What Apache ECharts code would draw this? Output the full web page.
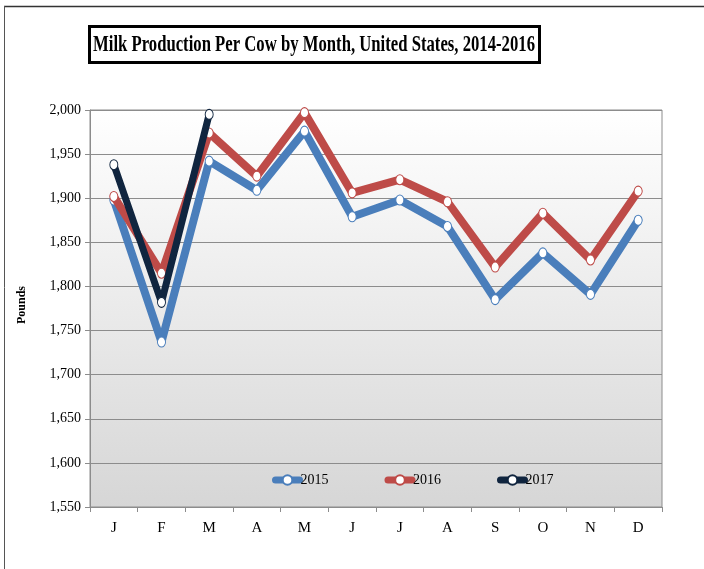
<!DOCTYPE html>
<html>
<head>
<meta charset="utf-8">
<script src="https://cdn.jsdelivr.net/npm/echarts@6/dist/echarts.min.js"></script>
<style>html,body{margin:0;padding:0;background:#fff;}#c{width:704px;height:569px;}</style>
</head>
<body>
<div id="c"></div>
<script>
const months = ['J','F','M','A','M','J','J','A','S','O','N','D'];
const s2015 = [1898, 1737, 1942, 1909, 1976, 1879, 1898, 1868, 1785, 1838, 1791, 1875];
const s2016 = [1902, 1815, 1974, 1925, 1997, 1906, 1921, 1896, 1822, 1883, 1830, 1908];
const s2017 = [1938, 1782, 1995];
const seriesNames = ['2015', '2016', '2017'];
const seriesColors = ['#4a7ebb', '#be4b48', '#10253f'];
const yMin = 1550, yMax = 2000, yStep = 50;
const titleText = 'Milk Production Per Cow by Month, United States, 2014-2016';

const serifFont = '"Liberation Serif","Times New Roman",serif';
const cv = document.createElement('canvas').getContext('2d');
cv.font = 'bold 23px ' + serifFont;
const titleW = cv.measureText(titleText).width;
const titleScale = 442 / titleW;

const chart = echarts.init(document.getElementById('c'), null, {renderer: 'canvas'});
const dataSets = [s2015, s2016, s2017];
const option = {
  animation: false,
  backgroundColor: '#fff',
  grid: {
    left: 90, right: 42, top: 110, bottom: 62,
    show: true,
    borderColor: '#8c8c8c', borderWidth: 1,
    backgroundColor: new echarts.graphic.LinearGradient(0, 0, 0, 1, [
      {offset: 0, color: '#ffffff'}, {offset: 1, color: '#d6d6d6'}
    ])
  },
  legend: {
    data: seriesNames,
    left: 267, top: 468,
    itemWidth: 24, itemHeight: 12, itemGap: 56,
    lineStyle: {width: 7, cap: 'round'},
    textStyle: {fontFamily: serifFont, fontSize: 14, color: '#000', padding: [0,0,0,-4]}
  },
  xAxis: {
    type: 'category', data: months, boundaryGap: true,
    axisLine: {show: true, lineStyle: {color: '#8c8c8c'}},
    axisTick: {show: true, length: 5, lineStyle: {color: '#8c8c8c'}},
    axisLabel: {fontFamily: serifFont, fontSize: 15, color: '#000', margin: 14}
  },
  yAxis: {
    type: 'value', min: yMin, max: yMax, interval: yStep,
    axisLine: {show: true, lineStyle: {color: '#8c8c8c'}},
    axisTick: {show: true, inside: false, length: 5, lineStyle: {color: '#8c8c8c'}},
    splitLine: {show: true, lineStyle: {color: '#8c8c8c', width: 1}},
    axisLabel: {fontFamily: serifFont, fontSize: 14, color: '#000', margin: 9,
      formatter: v => v.toLocaleString('en-US')}
  },
  series: dataSets.map((d, i) => ({
    name: seriesNames[i], type: 'line', data: d,
    symbol: 'circle', symbolSize: [8, 10],
    itemStyle: {color: '#fff', borderColor: seriesColors[i], borderWidth: 1},
    lineStyle: {color: seriesColors[i], width: i === 2 ? 7 : 8, cap: 'round', join: 'round'},
    z: 2 + i
  })),
  graphic: [
    {type: 'line', shape: {x1: 4, y1: 6.5, x2: 704, y2: 6.5}, style: {stroke: '#333', lineWidth: 1.5}},
    {type: 'line', shape: {x1: 4.5, y1: 6, x2: 4.5, y2: 569}, style: {stroke: '#555', lineWidth: 1}},
    {type: 'rect', shape: {x: 89.5, y: 26.5, width: 450, height: 36},
      style: {fill: '#fff', stroke: '#000', lineWidth: 3}},
    {type: 'text', x: 314, y: 45, scaleX: titleScale,
      style: {text: titleText, font: 'bold 23px ' + serifFont, fill: '#000',
        align: 'center', verticalAlign: 'middle'}},
    {type: 'text', x: 22, y: 305, rotation: Math.PI / 2,
      style: {text: 'Pounds', font: 'bold 12px ' + serifFont, fill: '#000',
        align: 'center', verticalAlign: 'middle'}}
  ]
};
chart.setOption(option);
</script>
</body>
</html>
